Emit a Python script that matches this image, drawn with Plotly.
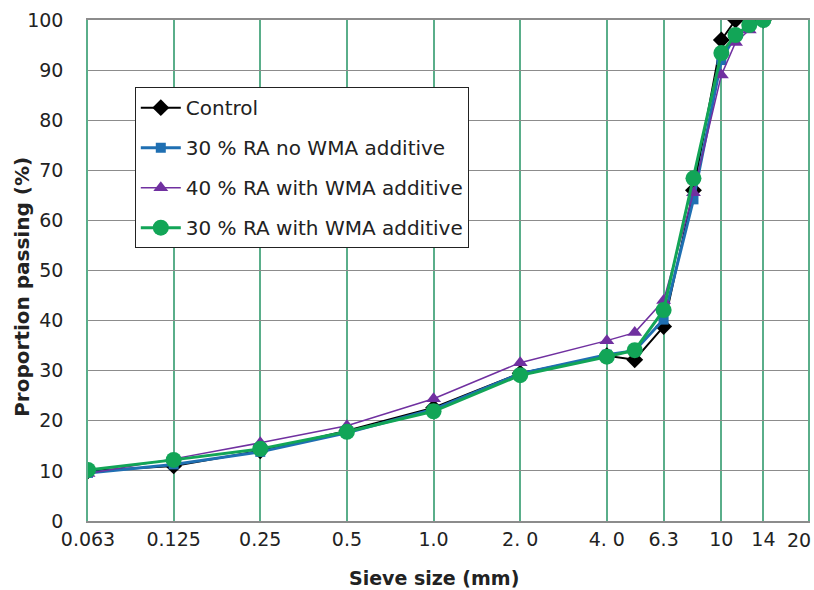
import plotly.graph_objects as go
import math

sieve = [0.063, 0.125, 0.25, 0.5, 1.0, 2.0, 4.0, 5.0, 6.3, 8.0, 10.0, 11.2, 12.5, 14.0]
control = [10.0, 11.0, 14.0, 18.0, 22.6, 29.5, 33.0, 32.2, 38.8, 66.0, 96.0, 100.0, 100.0, 100.0]
ra30_no = [9.6, 11.3, 13.8, 17.6, 22.3, 29.4, 33.2, 34.0, 40.2, 64.2, 92.0, 97.0, 99.0, 100.0]
ra40_wma = [9.5, 12.4, 15.6, 19.0, 24.4, 31.6, 36.0, 37.6, 44.0, 65.5, 89.0, 95.5, 98.0, 100.0]
ra30_wma = [10.2, 12.2, 14.4, 17.8, 21.9, 29.1, 32.8, 34.1, 42.1, 68.4, 93.4, 97.0, 99.0, 100.0]

tick_vals = [0.063, 0.125, 0.25, 0.5, 1.0, 2.0, 4.0, 6.3, 10, 14, 20]
tick_text = ["0.063", "0.125", "0.25", "0.5", "1.0", "2. 0", "4. 0", "6.3", "10", "14", ""]
last_label = "20"
x_title = "<b>Sieve size (mm)</b>"
y_title = "<b>Proportion passing (%)</b>"

series = [
    ("Control", control, "#000000", "diamond", 13, 2),
    ("30 % RA no WMA additive", ra30_no, "#1F6FB2", "square", 10, 3),
    ("40 % RA with WMA additive", ra40_wma, "#7030A0", "triangle-up", 13, 1.5),
    ("30 % RA with WMA additive", ra30_wma, "#12A557", "circle", 16, 3),
]

fig = go.Figure()
for i, (name, ys, col, sym, ms, lw) in enumerate(series):
    fig.add_trace(go.Scatter(
        x=sieve, y=ys, name=name, mode="lines+markers",
        line=dict(color=col, width=lw),
        marker=dict(symbol=sym, size=ms, color=col),
        legendgroup=str(i),
    ))

grid_green = "#5AAE8A"
grid_gray = "#8C8C8C"
txt = "#222222"

fig.add_annotation(
    xref="paper", yref="paper", x=1, y=-0.037, xanchor="right", yanchor="middle",
    xshift=5, text=last_label, showarrow=False,
    font=dict(size=19, color=txt),
)
fig.add_annotation(
    xref="paper", yref="paper", x=0.48, y=-0.114, xanchor="center", yanchor="middle",
    text=x_title, showarrow=False, font=dict(size=19, color=txt),
)
fig.add_annotation(
    xref="paper", yref="paper", x=-0.092, y=0.467, xanchor="center", yanchor="middle",
    text=y_title, textangle=-90, showarrow=False, font=dict(size=20, color=txt),
)

fig.update_layout(
    width=814, height=590,
    margin=dict(l=88, r=6, t=20, b=69),
    paper_bgcolor="white", plot_bgcolor="white",
    font=dict(family="DejaVu Sans, Verdana, sans-serif", size=19, color=txt),
    showlegend=True,
    legend=dict(
        x=0.065, y=0.866, xanchor="left", yanchor="top",
        bgcolor="white", bordercolor=txt, borderwidth=1,
        font=dict(size=20, color=txt),
        tracegroupgap=11, itemwidth=40,
    ),
    xaxis=dict(
        type="log", automargin=False,
        range=[math.log10(0.063), math.log10(20) + 1e-6],
        tickmode="array", tickvals=tick_vals, ticktext=tick_text,
        showgrid=True, gridcolor=grid_green, gridwidth=1.5,
        showline=True, linecolor=grid_gray, linewidth=1.5, mirror=True,
        ticks="", zeroline=False,
        tickfont=dict(size=19),
        ticklabelstandoff=0,
    ),
    yaxis=dict(
        automargin=False,
        range=[0, 100], tickmode="array", tickvals=list(range(0, 101, 10)),
        showgrid=True, gridcolor=grid_gray, gridwidth=1.2,
        showline=True, linecolor=grid_green, linewidth=1.5, mirror=True,
        ticks="", zeroline=False,
        tickfont=dict(size=19),
        ticklabelstandoff=19,
    ),
)

fig.write_html("out.html")
